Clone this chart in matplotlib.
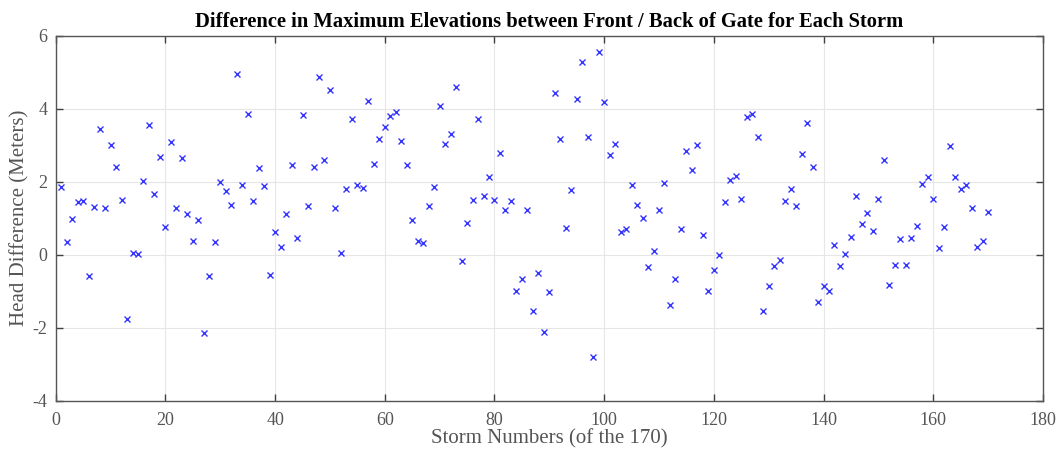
import numpy as np
import matplotlib
matplotlib.use("Agg")
import matplotlib.pyplot as plt

# storm index 1..170 and head difference (m)
storm = np.arange(1, 171)
head_diff = [
    1.85, 0.35, 0.98, 1.45, 1.48, -0.57, 1.30, 3.45, 1.27, 3.00,
    2.41, 1.51, -1.77, 0.05, 0.03, 2.02, 3.56, 1.66, 2.67, 0.77,
    3.09, 1.27, 2.64, 1.11, 0.38, 0.95, -2.15, -0.57, 0.36, 1.98,
    1.75, 1.37, 4.94, 1.90, 3.86, 1.48, 2.38, 1.88, -0.55, 0.62,
    0.22, 1.13, 2.47, 0.47, 3.83, 1.33, 2.41, 4.88, 2.61, 4.52,
    1.27, 0.05, 1.81, 3.72, 1.90, 1.83, 4.22, 2.49, 3.18, 3.51,
    3.80, 3.90, 3.12, 2.47, 0.94, 0.38, 0.33, 1.33, 1.87, 4.07,
    3.03, 3.30, 4.61, -0.18, 0.86, 1.51, 3.72, 1.61, 2.12, 1.51,
    2.79, 1.22, 1.48, -1.00, -0.66, 1.22, -1.53, -0.49, -2.13, -1.03,
    4.44, 3.18, 0.73, 1.77, 4.28, 5.29, 3.23, -2.81, 5.56, 4.18,
    2.73, 3.03, 0.61, 0.70, 1.90, 1.36, 1.00, -0.34, 0.11, 1.22,
    1.96, -1.38, -0.67, 0.70, 2.85, 2.31, 3.00, 0.53, -0.99, -0.42,
    -0.02, 1.45, 2.04, 2.16, 1.52, 3.77, 3.86, 3.24, -1.53, -0.87,
    -0.31, -0.15, 1.48, 1.81, 1.33, 2.76, 3.62, 2.41, -1.29, -0.87,
    -0.99, 0.26, -0.31, 0.02, 0.49, 1.62, 0.83, 1.15, 0.65, 1.52,
    2.59, -0.84, -0.27, 0.43, -0.27, 0.47, 0.79, 1.93, 2.14, 1.52,
    0.18, 0.77, 2.97, 2.14, 1.79, 1.91, 1.27, 0.22, 0.38, 1.18,
]

x_ticks = [0, 20, 40, 60, 80, 100, 120, 140, 160, 180]
y_ticks = [-4, -2, 0, 2, 4, 6]

plt.rcParams['font.family'] = ['Liberation Serif', 'DejaVu Serif']
plt.rcParams['axes.unicode_minus'] = False

fig = plt.figure(figsize=(10.62, 4.59), dpi=100)
ax = fig.add_axes([0.0525, 0.127, 0.9295, 0.795])

ax.plot(storm, head_diff, linestyle='none', marker='x', color='#3535ff',
        markersize=4.5, markeredgewidth=1.0)

ax.set_xlim(0, 180)
ax.set_ylim(-4, 6)
ax.set_xticks(x_ticks)
ax.set_yticks(y_ticks)
ax.grid(True, color='#e6e6e6', linewidth=0.8)
ax.set_axisbelow(True)

ax.tick_params(direction='in', top=True, right=True, length=5, width=1,
               colors='#404040', labelcolor='#555555', labelsize=13)
ax.tick_params(axis='x', pad=8)
ax.tick_params(axis='y', pad=6)
for sp in ax.spines.values():
    sp.set_color('#555555')
    sp.set_linewidth(1.0)

ax.set_xlabel('Storm Numbers (of the 170)', fontsize=15, color='#555555', labelpad=0)
ax.set_ylabel('Head Difference (Meters)', fontsize=15, color='#555555', labelpad=2)
ax.set_title('Difference in Maximum Elevations between Front / Back of Gate for Each Storm',
             fontsize=14.8, fontweight='bold', color='black', pad=6)

fig.savefig('out.png', dpi=100)
